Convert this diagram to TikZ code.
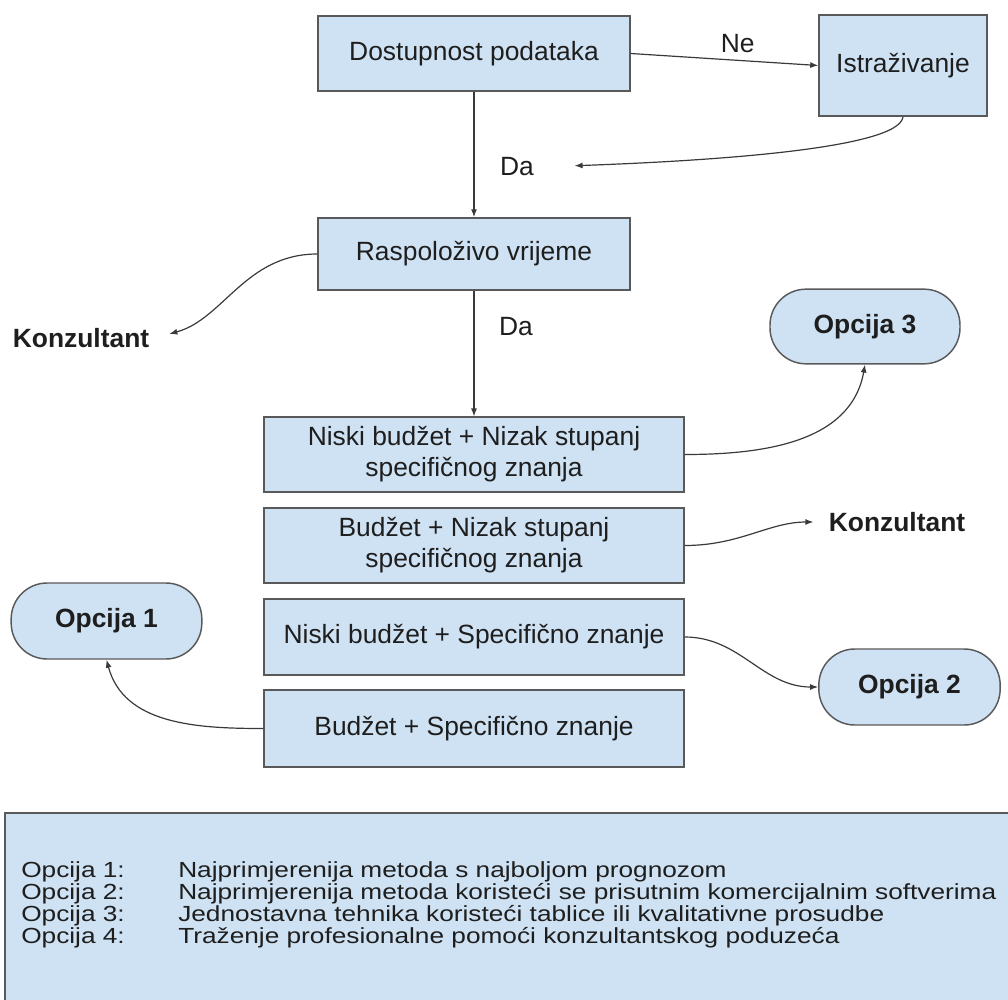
\documentclass[tikz,border=0pt]{standalone}
\usepackage{fontspec}
\setmainfont{Liberation Sans}
\newfontfamily\legendfont[FakeStretch=1.2]{Liberation Sans}
\usepackage{tikz}
\usetikzlibrary{arrows.meta}
\definecolor{boxblue}{HTML}{CFE2F3}
\definecolor{edgegray}{HTML}{595959}
\definecolor{linkgray}{HTML}{3A3A3A}
\definecolor{inkgray}{HTML}{1E1E1E}
\tikzstyle{stepbox}=[rectangle, draw=edgegray, line width=1.1pt,
fill=boxblue, align=center, text=inkgray, inner sep=0pt,
font=\fontsize{19.8}{23.3}\selectfont]
\tikzstyle{optbox}=[stepbox, rounded corners=27pt,
font=\fontsize{19.8}{23.3}\selectfont\bfseries]
\tikzstyle{lbl}=[text=inkgray, font=\fontsize{19.8}{23.3}\selectfont]
\tikzstyle{boldlbl}=[lbl, font=\fontsize{19.8}{23.3}\selectfont\bfseries]
\tikzstyle{link}=[draw=linkgray, line width=0.9pt, ->,
>={Latex[length=6pt,width=4.5pt]}]
\tikzstyle{legtext}=[inner sep=0pt, anchor=base west, text=inkgray,
font=\legendfont\fontsize{16.4}{16.5}\selectfont]

\begin{document}
\begin{tikzpicture}[x=0.75pt, y=-0.75pt]
\useasboundingbox (0,0) rectangle (1008,1000);

% Main column
\path (474,53.5) node[stepbox, minimum width=234pt, minimum height=56pt] (dost) {Dostupnost podataka};
\path (903,65.5) node[stepbox, minimum width=126pt, minimum height=76pt] (istr) {Istraživanje};
\path (474,254) node[stepbox, minimum width=234pt, minimum height=54pt] (rasp) {Raspoloživo vrijeme};

% Budget / knowledge cases
\path (474,454.5) node[stepbox, minimum width=315pt, minimum height=56pt] (nisnis) {Niski budžet + Nizak stupanj\\specifičnog znanja};
\path (474,545.5) node[stepbox, minimum width=315pt, minimum height=56pt] (budnis) {Budžet + Nizak stupanj\\specifičnog znanja};
\path (474,637) node[stepbox, minimum width=315pt, minimum height=57pt] (nisspec) {Niski budžet + Specifično znanje};
\path (474,728.5) node[stepbox, minimum width=315pt, minimum height=57.5pt] (budspec) {Budžet + Specifično znanje};

% Options
\path (865,326.5) node[optbox, minimum width=142.5pt, minimum height=56pt] (opt3) {Opcija 3};
\path (106.5,621) node[optbox, minimum width=143pt, minimum height=57pt] (opt1) {Opcija 1};
\path (909.5,687) node[optbox, minimum width=136pt, minimum height=57pt] (opt2) {Opcija 2};

% Free labels
\path (517,167) node[lbl] (da1) {Da};
\path (516,327) node[lbl] (da2) {Da};
\path (81,338) node[boldlbl] (konz1) {Konzultant};
\path (897,522) node[boldlbl] (konz2) {Konzultant};

% Connectors
\draw[link] (dost) -- (rasp);
\draw[link] (dost.east) -- (istr.west) node[lbl, pos=0.57, above=2pt] (ne) {Ne};
\draw[link, shorten >=27pt] (istr.south) .. controls +(-4,32) and +(170,-6) .. (da1.east);
\draw[link, shorten >=12pt] (rasp.west) to[out=180, in=15] (konz1.east);
\draw[link] (rasp) -- (nisnis);
\draw[link] (nisnis.east) to[out=0, in=-100] (opt3.south);
\draw[link, shorten >=8pt] (budnis.east) to[out=0, in=180] (konz2.west);
\draw[link] (nisspec.east) to[out=0, in=180] (opt2.west);
\draw[link] (budspec.west) to[out=180, in=-75] (opt1.south);

% Legend
\draw[draw=edgegray, line width=1.1pt, fill=boxblue] (5,813) rectangle (1015,1010);
\foreach \n/\t in {1/Najprimjerenija metoda s najboljom prognozom,
  2/Najprimjerenija metoda koristeći se prisutnim komercijalnim softverima,
  3/Jednostavna tehnika koristeći tablice ili kvalitativne prosudbe,
  4/Traženje profesionalne pomoći konzultantskog poduzeća}
{
  \path (21,855+22*\n) node[legtext] (lab\n) {Opcija \n:}
        (178,855+22*\n) node[legtext] (desc\n) {\t};
}

\end{tikzpicture}
\end{document}
